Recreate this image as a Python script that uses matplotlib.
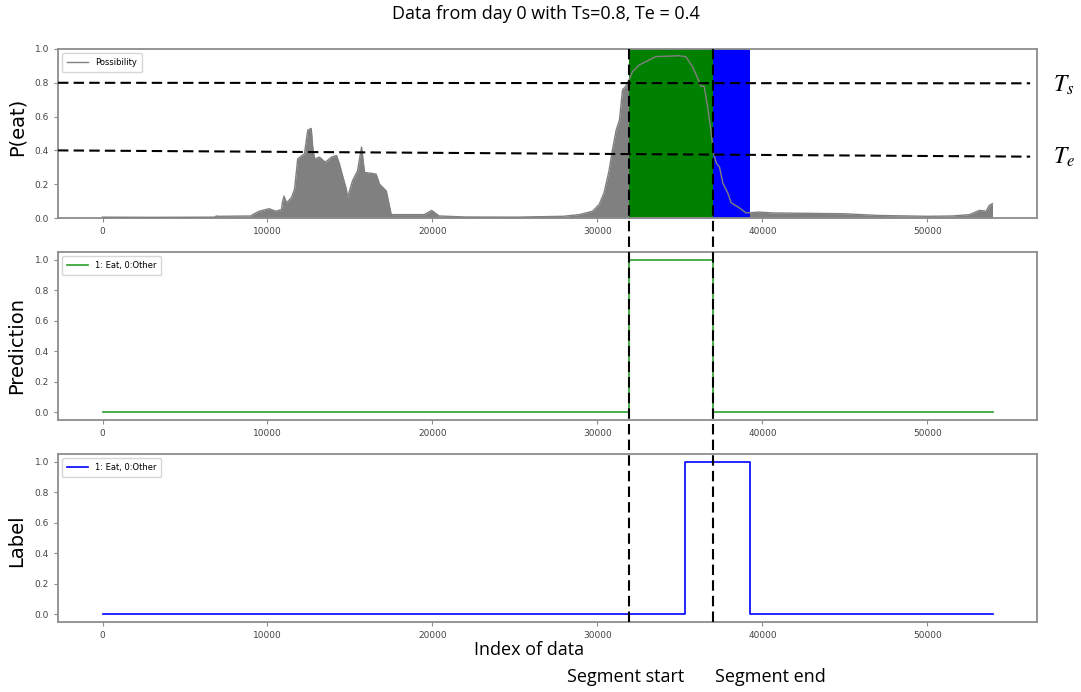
import matplotlib
matplotlib.use("Agg")
import matplotlib.pyplot as plt
from matplotlib.lines import Line2D
from matplotlib.transforms import blended_transform_factory

# P(eat) as (index, probability)
possibility = [
    (0, 0.005), (3000, 0.004), (6800, 0.005), (6900, 0.012), (7000, 0.01),
    (9000, 0.012), (9100, 0.02), (9500, 0.04), (10100, 0.055), (10500, 0.04),
    (10850, 0.05), (10900, 0.09), (11000, 0.13), (11150, 0.09), (11450, 0.12),
    (11640, 0.17), (11830, 0.35), (12240, 0.38), (12440, 0.52), (12650, 0.53),
    (12740, 0.42), (12850, 0.35), (13150, 0.36), (13500, 0.33), (13880, 0.36),
    (14180, 0.37), (14360, 0.32), (14550, 0.25), (14780, 0.17), (14850, 0.12),
    (15150, 0.22), (15460, 0.28), (15700, 0.42), (15880, 0.27), (16580, 0.26),
    (16790, 0.2), (17200, 0.16), (17500, 0.02), (19500, 0.02), (19950, 0.045),
    (20400, 0.012), (22000, 0.006), (25000, 0.005), (27900, 0.01), (28900, 0.02),
    (29700, 0.04), (30100, 0.08), (30400, 0.15), (30700, 0.28), (30900, 0.4),
    (31130, 0.52), (31330, 0.58), (31520, 0.76), (31720, 0.78), (31920, 0.82),
    (32120, 0.865), (32530, 0.905), (32930, 0.925), (33540, 0.955), (34950, 0.96),
    (35350, 0.955), (35760, 0.895), (36060, 0.83), (36260, 0.78), (36460, 0.78),
    (36670, 0.66), (36870, 0.52), (37030, 0.385), (37200, 0.325), (37400, 0.3),
    (37600, 0.205), (37900, 0.147), (38100, 0.09), (38600, 0.06), (39000, 0.03),
    (39800, 0.035), (40600, 0.03), (45000, 0.025), (47000, 0.015), (50000, 0.01),
    (51500, 0.012), (52550, 0.02), (53150, 0.045), (53550, 0.04), (53750, 0.075),
    (53940, 0.085),
]
poss_x = [p[0] for p in possibility]
poss_y = [p[1] for p in possibility]

n_last = 53940
seg_start = 31880      # prediction goes to 1
seg_end = 37030        # prediction back to 0
label_start = 35330
label_end = 39270
ts = 0.8
te = 0.4

pred_x = [0, seg_start, seg_start, seg_end, seg_end, n_last]
pred_y = [0, 0, 1, 1, 0, 0]
lab_x = [0, label_start, label_start, label_end, label_end, n_last]
lab_y = [0, 0, 1, 1, 0, 0]

W, H = 1081, 692
fig = plt.figure(figsize=(W / 100, H / 100), dpi=100)

def make_ax(top, bottom):
    ax = fig.add_axes([58 / W, 1 - bottom / H, 979 / W, (bottom - top) / H])
    for s in ax.spines.values():
        s.set_color("#8c8c8c")
        s.set_linewidth(1.3)
    ax.tick_params(labelsize=6.5, colors="#8c8c8c", labelcolor="#444444", length=3)
    return ax

ax1 = make_ax(49, 218)
ax2 = make_ax(252, 420)
ax3 = make_ax(454, 622)

# top: possibility
ax1.fill_between(poss_x, poss_y, color="gray", lw=0, zorder=1)
ax1.axvspan(seg_start, seg_end, color="green", lw=0, zorder=2)
ax1.axvspan(seg_end, label_end, color="blue", lw=0, zorder=2)
ax1.plot(poss_x, poss_y, color="gray", lw=1, label="Possibility", zorder=3)
ax1.set_ylim(0, 1)

# middle + bottom
ax2.plot(pred_x, pred_y, color="#2ca02c", lw=1.2, label="1: Eat, 0:Other")
ax3.plot(lab_x, lab_y, color="blue", lw=1.2, label="1: Eat, 0:Other")

for ax in (ax1, ax2, ax3):
    ax.set_xlim(-0.05 * n_last, 1.05 * n_last)
    ax.set_xticks([0, 10000, 20000, 30000, 40000, 50000])
    ax.set_yticks([0, 0.2, 0.4, 0.6, 0.8, 1.0])
    ax.legend(loc="upper left", fontsize=6, handlelength=2.5, borderpad=0.6)

# threshold lines (hand drawn in the original, slightly tilted)
tr = blended_transform_factory(ax1.transAxes, ax1.transData)
ax1.plot([0, 0.993], [ts, 0.797], transform=tr, color="black", lw=1.5,
         dashes=(5, 2.5), zorder=4)
ax1.plot([0, 0.993], [te, 0.363], transform=tr, color="black", lw=1.5,
         dashes=(5, 2.5), zorder=4)

# segment lines running through all three panels
vt = blended_transform_factory(ax1.transData, fig.transFigure)
for xv in (seg_start, seg_end):
    fig.add_artist(Line2D([xv, xv], [1 - 49 / H, 1 - 626 / H], transform=vt,
                          color="black", lw=1.5, dashes=(5, 2.5), zorder=5))

txt = dict(family="Open Sans", color="black", ha="center", va="center")
fig.text(546 / W, 1 - 14 / H, "Data from day 0 with Ts=0.8, Te = 0.4", fontsize=13, **txt)
fig.text(529 / W, 1 - 650 / H, "Index of data", fontsize=13, **txt)
fig.text(626 / W, 1 - 677 / H, "Segment start", fontsize=13, **txt)
fig.text(770 / W, 1 - 677 / H, "Segment end", fontsize=13, **txt)

plt.rcParams["mathtext.fontset"] = "stix"
fig.text(1064 / W, 1 - 85 / H, r"$T_s$", fontsize=17, ha="center", va="center")
fig.text(1064 / W, 1 - 157 / H, r"$T_e$", fontsize=17, ha="center", va="center")

fig.text(17 / W, 1 - 127 / H, "P(eat)", fontsize=14, rotation=90, ha="center", va="center")
fig.text(17 / W, 1 - 345 / H, "Prediction", fontsize=14, rotation=90, ha="center", va="center")
fig.text(17 / W, 1 - 541 / H, "Label", fontsize=14, rotation=90, ha="center", va="center")

fig.savefig("out.png", dpi=100)
